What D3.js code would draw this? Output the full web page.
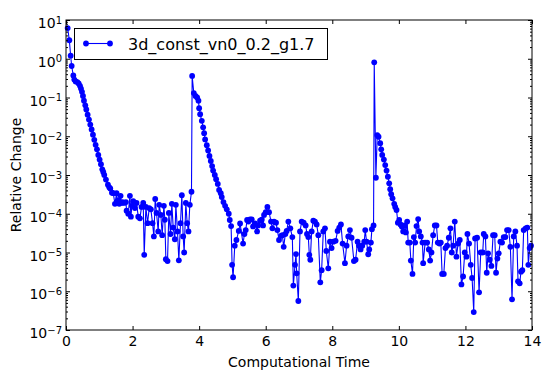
<!DOCTYPE html>
<html>
<head>
<meta charset="utf-8">
<script src="https://cdn.jsdelivr.net/npm/d3@7"></script>
<style>
  body { margin: 0; background: #fff; }
  text { font-family: "DejaVu Sans", sans-serif; }
</style>
</head>
<body>
<svg id="chart"></svg>
<script>
var seriesName = "3d_const_vn0_0.2_g1.7";
var xTicks = [0, 2, 4, 6, 8, 10, 12, 14];
var yExponents = [-7, -6, -5, -4, -3, -2, -1, 0, 1];

var times = [
  0.05, 0.1, 0.14, 0.17, 0.22, 0.25, 0.29, 0.34, 0.38, 0.42, 0.45, 0.48, 0.51, 0.54, 0.58, 0.61, 0.65, 0.69, 0.73, 0.77,
  0.81, 0.85, 0.89, 0.93, 0.97, 1.01, 1.05, 1.09, 1.12, 1.15, 1.2, 1.26, 1.3, 1.33, 1.38, 1.42, 1.47, 1.52, 1.55, 1.57,
  1.6, 1.64, 1.67, 1.7, 1.75, 1.8, 1.82, 1.87, 1.92, 1.95, 1.98, 2.02, 2.07, 2.12, 2.17, 2.22, 2.27, 2.32, 2.35, 2.4,
  2.45, 2.5, 2.55, 2.6, 2.64, 2.68, 2.72, 2.77, 2.8, 2.85, 2.89, 2.94, 2.97, 3.0, 3.05, 3.09, 3.14, 3.18, 3.22, 3.27,
  3.3, 3.35, 3.39, 3.44, 3.48, 3.52, 3.55, 3.6, 3.64, 3.68, 3.72, 3.77, 3.79, 3.84, 3.89, 3.94, 3.98, 4.0, 4.03, 4.08,
  4.12, 4.15, 4.18, 4.23, 4.27, 4.31, 4.35, 4.39, 4.42, 4.47, 4.51, 4.56, 4.6, 4.65, 4.68, 4.73, 4.78, 4.83, 4.89, 4.92,
  4.96, 4.99, 5.02, 5.07, 5.12, 5.19, 5.23, 5.32, 5.36, 5.4, 5.44, 5.48, 5.53, 5.58, 5.62, 5.68, 5.74, 5.77, 5.83, 5.88,
  5.92, 5.95, 6.0, 6.05, 6.1, 6.16, 6.2, 6.25, 6.31, 6.35, 6.4, 6.46, 6.5, 6.54, 6.59, 6.63, 6.68, 6.74, 6.8, 6.83,
  6.88, 6.91, 6.93, 6.98, 7.03, 7.08, 7.14, 7.2, 7.24, 7.28, 7.31, 7.34, 7.38, 7.43, 7.48, 7.53, 7.58, 7.64, 7.68, 7.73,
  7.78, 7.82, 7.88, 7.93, 7.98, 8.03, 8.1, 8.16, 8.21, 8.26, 8.31, 8.38, 8.43, 8.48, 8.53, 8.58, 8.65, 8.7, 8.76, 8.8,
  8.85, 8.9, 8.96, 8.99, 9.03, 9.08, 9.11, 9.16, 9.19, 9.24, 9.26, 9.31, 9.35, 9.39, 9.44, 9.47, 9.5, 9.55, 9.59, 9.63,
  9.67, 9.71, 9.74, 9.77, 9.81, 9.86, 9.89, 9.93, 9.97, 10.01, 10.05, 10.09, 10.13, 10.17, 10.21, 10.25, 10.28, 10.33, 10.36, 10.41,
  10.45, 10.49, 10.53, 10.58, 10.61, 10.66, 10.71, 10.73, 10.79, 10.85, 10.9, 10.94, 10.98, 11.03, 11.08, 11.13, 11.17, 11.22, 11.26, 11.3,
  11.35, 11.4, 11.45, 11.5, 11.55, 11.59, 11.63, 11.68, 11.73, 11.78, 11.83, 11.88, 11.93, 11.98, 12.03, 12.06, 12.11, 12.16, 12.2, 12.25,
  12.29, 12.35, 12.41, 12.46, 12.52, 12.55, 12.6, 12.64, 12.68, 12.73, 12.78, 12.83, 12.88, 12.92, 12.96, 13.0, 13.05, 13.1, 13.15, 13.2,
  13.25, 13.3, 13.35, 13.4, 13.45, 13.5, 13.55, 13.58, 13.63, 13.67, 13.71, 13.75, 13.81, 13.86, 13.89, 13.93, 13.97
];

var change = [
  6.2, 3.0, 1.2, 0.65, 0.37, 0.29, 0.26, 0.25, 0.23, 0.2, 0.17, 0.14, 0.11, 0.083, 0.063, 0.049, 0.036, 0.027, 0.02, 0.015,
  0.011, 0.0081, 0.006, 0.0046, 0.0033, 0.0025, 0.0019, 0.0014, 0.0012, 0.001, 7.6e-4, 5.6e-4, 4.8e-4, 4.5e-4, 3.5e-4, 3.4e-4, 1.8e-4, 3.4e-4, 2.0e-4, 2.2e-4,
  1.8e-4, 2.9e-4, 1.9e-4, 2.0e-4, 1.9e-4, 2.0e-4, 1.2e-4, 1.0e-4, 2.9e-4, 8.4e-5, 1.6e-4, 2.1e-4, 1.4e-4, 1.9e-4, 8.4e-5, 7.6e-5, 1.5e-4, 1.9e-4, 8.7e-6, 1.5e-4,
  5.7e-5, 1.4e-4, 1.3e-4, 5.7e-5, 2.6e-5, 2.4e-4, 1.05e-4, 3.5e-5, 1.7e-4, 9.3e-5, 2.8e-5, 1.6e-4, 7.0e-5, 6.7e-6, 6.0e-6, 1.05e-4, 3.0e-5, 1.8e-4, 4.4e-5, 2.2e-5,
  1.7e-4, 3.5e-5, 6.3e-6, 5.7e-5, 3.0e-4, 2.6e-5, 1.0e-5, 1.9e-4, 5.7e-5, 3.5e-5, 1.7e-4, 3.7e-4, 0.36, 0.13, 0.11, 0.1, 0.083, 0.053, 0.037, 0.025,
  0.017, 0.012, 0.0083, 0.0059, 0.0043, 0.0031, 0.0023, 0.0017, 0.0013, 0.001, 7.8e-4, 5.9e-4, 4.1e-4, 3.4e-4, 2.7e-4, 2.0e-4, 1.6e-4, 1.3e-4, 1.0e-4, 6.9e-5,
  4.8e-5, 4.8e-6, 2.3e-6, 1.5e-5, 2.1e-5, 3.6e-5, 5.6e-5, 1.7e-5, 3.0e-5, 3.8e-5, 6.9e-5, 6.3e-5, 7.2e-5, 7.2e-5, 4.7e-5, 5.6e-5, 3.5e-5, 5.0e-5, 6.6e-5, 7.0e-5,
  5.0e-5, 9.3e-5, 1.1e-4, 1.5e-4, 1.1e-4, 6.3e-5, 4.2e-5, 6.3e-5, 5.9e-5, 3.8e-5, 2.1e-5, 2.7e-5, 2.8e-5, 1.4e-5, 3.0e-5, 3.6e-5, 6.3e-5, 4.2e-5, 2.5e-5, 1.4e-6,
  4.8e-6, 9.1e-6, 2.9e-6, 5.6e-7, 3.5e-5, 6.3e-5, 5.9e-5, 5.0e-5, 3.0e-5, 2.5e-5, 8.7e-6, 6.5e-6, 3.5e-5, 6.6e-5, 6.3e-5, 5.3e-5, 2.8e-5, 1.7e-6, 3.5e-6, 3.5e-5,
  4.2e-5, 1.1e-5, 3.9e-6, 1.9e-5, 1.3e-5, 1.9e-5, 2.0e-5, 3.6e-5, 4.4e-5, 5.3e-5, 1.7e-5, 5.3e-6, 1.5e-5, 2.6e-5, 3.8e-5, 2.4e-5, 6.0e-6, 6.5e-6, 1.9e-5, 1.5e-5,
  1.2e-5, 1.5e-5, 1.9e-5, 3.8e-5, 1.9e-5, 9.0e-6, 1.2e-5, 1.8e-5, 4.0e-5, 5.0e-5, 0.81, 8.5e-4, 0.0107, 0.0097, 0.0066, 0.0046, 0.0033, 0.0025, 0.0018, 0.0013,
  9.0e-4, 6.1e-4, 4.3e-4, 3.2e-4, 2.5e-4, 1.8e-4, 1.5e-4, 1.25e-4, 5.9e-5, 6.9e-5, 5.3e-5, 4.7e-5, 3.5e-5, 5.0e-5, 3.3e-5, 6.3e-5, 1.8e-5, 1.8e-5, 6.2e-6, 2.8e-6,
  2.5e-5, 1.8e-5, 4.8e-5, 7.3e-5, 3.5e-5, 2.6e-5, 1.8e-5, 5.3e-6, 1.8e-5, 1.8e-5, 1.2e-5, 6.2e-6, 1.0e-5, 2.8e-5, 5.0e-5, 5.0e-5, 1.8e-5, 1.7e-5, 1.8e-5, 2.8e-6,
  2.8e-6, 1.3e-5, 1.5e-5, 2.4e-5, 4.2e-5, 1.0e-5, 1.5e-5, 6.3e-5, 7.8e-6, 1.7e-5, 2.1e-5, 1.5e-6, 2.4e-6, 1.0e-5, 7.8e-6, 3.0e-5, 1.7e-5, 4.8e-6, 2.2e-6, 2.9e-7,
  2.3e-5, 2.4e-5, 9.4e-7, 1.0e-5, 1.0e-5, 3.0e-5, 2.6e-5, 3.0e-6, 9.5e-6, 6.5e-6, 4.5e-6, 2.8e-5, 2.8e-5, 3.0e-6, 7.0e-6, 9.5e-6, 1.9e-5, 1.8e-5, 2.5e-5, 2.5e-5,
  3.8e-5, 3.8e-5, 1.4e-5, 6.2e-7, 2.6e-5, 3.5e-5, 1.5e-5, 1.8e-6, 1.6e-6, 3.2e-6, 3.5e-6, 3.8e-5, 4.2e-5, 4.4e-5, 4.8e-6, 1.3e-5, 1.5e-5
];

var width = 549, height = 380;
var padL = 66, padR = 532, padT = 20, padB = 330;
var dotR = 2.9;

var svg = d3.select("#chart")
            .attr("width", width)
            .attr("height", height);

svg.append("rect")
   .attr("width", width)
   .attr("height", height)
   .attr("fill", "white");

var x = d3.scaleLinear().domain([0, 14]).range([padL, padR]);
var y = d3.scaleLog().domain([1e-7, 10]).range([padB, padT]);

var pts = times.map(function(t, i){ return [t, change[i]]; });

var line = d3.line()
             .x(function(d){ return x(d[0]); })
             .y(function(d){ return y(d[1]); });

var plot = svg.append("g");

plot.append("path")
    .datum(pts)
    .attr("d", line)
    .attr("fill", "none")
    .attr("stroke", "#0000ff")
    .attr("stroke-width", 1.1);

plot.selectAll("circle")
    .data(pts)
    .enter()
    .append("circle")
    .attr("cx", function(d){ return x(d[0]); })
    .attr("cy", function(d){ return y(d[1]); })
    .attr("r", dotR)
    .attr("fill", "#0000ff");

// minor log ticks
var minors = [];
yExponents.slice(0, -1).forEach(function(e){
  for (var m = 2; m < 10; m++) minors.push(m * Math.pow(10, e));
});
var majors = yExponents.map(function(e){ return Math.pow(10, e); });

// bottom + top axes
var xb = svg.append("g")
            .attr("transform", "translate(0," + padB + ")")
            .call(d3.axisBottom(x).tickValues(xTicks).tickFormat(d3.format("d"))
                    .tickSizeInner(-4).tickSizeOuter(0).tickPadding(6));
svg.append("g")
   .attr("transform", "translate(0," + padT + ")")
   .call(d3.axisTop(x).tickValues(xTicks).tickFormat("")
           .tickSizeInner(-4).tickSizeOuter(0));

// left / right axes
var yl = svg.append("g")
            .attr("transform", "translate(" + padL + ",0)")
            .call(d3.axisLeft(y).tickValues(majors)
                    .tickSizeInner(-4).tickSizeOuter(0).tickPadding(4));
svg.append("g")
   .attr("transform", "translate(" + padR + ",0)")
   .call(d3.axisRight(y).tickValues(majors)
           .tickFormat("").tickSizeInner(-4).tickSizeOuter(0));
svg.append("g")
   .attr("transform", "translate(" + padL + ",0)")
   .call(d3.axisLeft(y).tickValues(minors).tickFormat("").tickSizeInner(-2).tickSizeOuter(0));
svg.append("g")
   .attr("transform", "translate(" + padR + ",0)")
   .call(d3.axisRight(y).tickValues(minors).tickFormat("").tickSizeInner(-2).tickSizeOuter(0));

svg.selectAll(".domain").remove();
svg.selectAll(".tick line").attr("stroke", "black").attr("stroke-width", 1);

xb.selectAll(".tick text")
  .attr("font-size", 14)
  .attr("font-family", "DejaVu Sans")
  .attr("fill", "black");

yl.selectAll(".tick text")
  .attr("font-size", 14)
  .attr("font-family", "DejaVu Sans")
  .attr("fill", "black")
  .each(function(d){
    var t = d3.select(this);
    var e = Math.round(Math.log10(d));
    t.text("");
    t.append("tspan").text("10");
    t.append("tspan")
     .attr("dy", "-0.45em")
     .attr("font-size", 10)
     .text(e < 0 ? "\u2212" + (-e) : e);
  })
  .attr("dy", "0.55em");

// frame
svg.append("rect")
   .attr("x", padL)
   .attr("y", padT)
   .attr("width", padR - padL)
   .attr("height", padB - padT)
   .attr("fill", "none")
   .attr("stroke", "black")
   .attr("stroke-width", 1);

// axis labels
svg.append("text")
   .attr("x", (padL + padR) / 2)
   .attr("y", 367)
   .attr("text-anchor", "middle")
   .attr("font-size", 14)
   .text("Computational Time");

svg.append("text")
   .attr("transform", "translate(21," + ((padT + padB) / 2) + ") rotate(-90)")
   .attr("text-anchor", "middle")
   .attr("font-size", 14)
   .text("Relative Change");

// legend
var lg = svg.append("g");
lg.append("rect")
  .attr("x", 74.5).attr("y", 28.5)
  .attr("width", 253).attr("height", 31)
  .attr("fill", "white")
  .attr("stroke", "black")
  .attr("stroke-width", 1);
lg.append("line")
  .attr("x1", 86).attr("x2", 110)
  .attr("y1", 43.5).attr("y2", 43.5)
  .attr("stroke", "#0000ff")
  .attr("stroke-width", 1.1);
lg.selectAll("circle")
  .data([86, 110])
  .enter()
  .append("circle")
  .attr("cx", function(d){ return d; })
  .attr("cy", 43.5)
  .attr("r", dotR)
  .attr("fill", "#0000ff");
lg.append("text")
  .attr("x", 128)
  .attr("y", 49.5)
  .attr("font-size", 16)
  .text(seriesName);
</script>
</body>
</html>
